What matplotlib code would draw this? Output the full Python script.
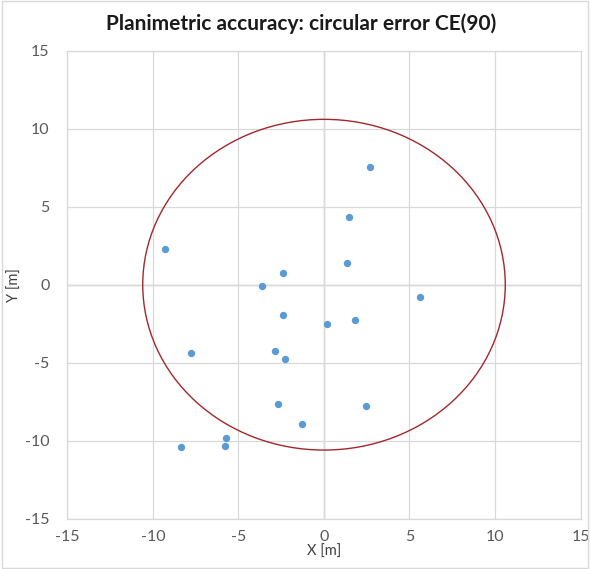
import matplotlib.pyplot as plt
from matplotlib.patches import Circle, Rectangle

# error offsets of check points [m]
dx = [2.69, 1.48, 1.36, 5.61, 0.17, 1.80, 2.44, -9.30, -2.40, -3.64, -2.40,
      -7.79, -2.85, -2.28, -2.71, -1.27, -5.75, -5.79, -8.36]
dy = [7.54, 4.36, 1.37, -0.77, -2.55, -2.28, -7.78, 2.31, 0.75, -0.08, -1.94,
      -4.36, -4.27, -4.76, -7.65, -8.93, -9.83, -10.34, -10.38]
ce90 = 10.6
ticks = [-15, -10, -5, 0, 5, 10, 15]

plt.rcParams['font.family'] = ['Lato', 'DejaVu Sans']
plt.rcParams['axes.unicode_minus'] = False

fig = plt.figure(figsize=(5.9, 5.69), dpi=100)
ax = fig.add_axes([0.1144, 0.0884, 0.8695, 0.8225])

ax.scatter(dx, dy, s=28, color='#5b9bd5', zorder=3, linewidths=0)
ax.add_patch(Circle((0, 0), ce90, fill=False, edgecolor='#a3272b', lw=1.0, zorder=2))

ax.set_xlim(-15, 15)
ax.set_ylim(-15, 15)
ax.set_xticks(ticks)
ax.set_yticks(ticks)
ax.grid(True, color='#d9d9d9', lw=0.9, zorder=0)
ax.axhline(0, color='#c8c8c8', lw=1.0, zorder=1)
ax.axvline(0, color='#c8c8c8', lw=1.0, zorder=1)
for s in ax.spines.values():
    s.set_color('#d9d9d9')
    s.set_linewidth(0.9)
ax.tick_params(length=0, labelsize=11.5, labelcolor='#595959')
ax.tick_params(axis='x', pad=8)
ax.tick_params(axis='y', pad=13)

ax.set_xlabel('X [m]', fontsize=10.5, color='#404040', labelpad=1)
ax.set_ylabel('Y [m]', fontsize=10.5, color='#404040', labelpad=2)
fig.suptitle('Planimetric accuracy: circular error CE(90)', x=0.51, y=0.977,
             fontsize=15, fontweight='bold', color='#1a1a1a')

fig.patches.append(Rectangle((0.004, 0.002), 0.992, 0.996, transform=fig.transFigure,
                             fill=False, edgecolor='#d9d9d9', lw=1))

fig.savefig('out.png', dpi=100)
